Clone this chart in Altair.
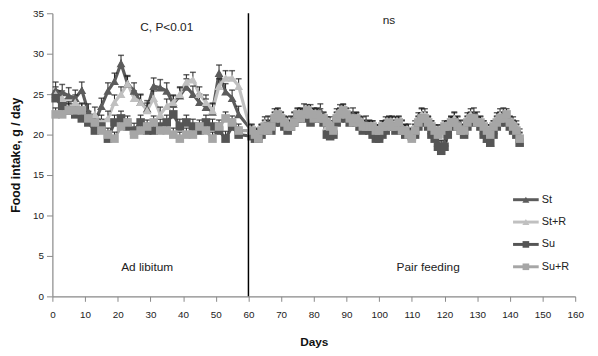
import altair as alt
import pandas as pd

series = ["St", "St+R", "Su", "Su+R"]
colors = ["#5c5c5c", "#c0c0c0", "#555555", "#a6a6a6"]

days_adlib = [1, 3, 5, 7, 9, 11, 13, 15, 17, 19, 21, 23, 25, 27, 29, 31, 33, 35, 37, 39,
              41, 43, 45, 47, 49, 51, 53, 55, 57]
days_pair = list(range(61, 144))

st_adlib = [25.5, 25.2, 24.8, 24.5, 25.5, 22.8, 21.5, 23.5, 25.4, 26.6, 28.8, 26.3, 25.4, 24.0, 23.2,
            26.0, 25.8, 25.4, 23.8, 24.8, 25.9, 25.0, 24.0, 23.4, 22.8, 27.6, 25.3, 24.5, 22.5]
str_adlib = [25.0, 24.5, 23.2, 24.0, 23.0, 22.0, 22.5, 21.5, 22.0, 24.0, 25.0, 26.3, 24.5, 24.0, 23.0,
             24.5, 22.5, 23.5, 24.0, 25.0, 26.5, 26.8, 25.0, 24.0, 23.0, 26.0, 27.0, 27.0, 26.0]
su_adlib = [24.5, 23.5, 23.0, 22.5, 22.0, 21.5, 20.5, 21.0, 19.5, 21.5, 22.0, 21.0, 20.5, 21.5, 20.5,
            20.5, 21.0, 21.5, 22.5, 21.0, 21.5, 21.0, 20.5, 21.5, 21.0, 20.5, 19.5, 21.0, 20.0]
sur_adlib = [22.5, 22.5, 23.0, 23.0, 23.0, 22.0, 21.5, 20.5, 20.0, 19.5, 21.0, 21.5, 20.0, 20.5, 21.0,
             21.5, 20.5, 20.5, 20.0, 19.5, 20.0, 20.0, 21.0, 20.5, 19.5, 21.0, 22.0, 21.5, 20.5]

st_pair = [20.5, 20.0, 19.8, 20.5, 21.0, 21.5, 21.0, 22.0, 22.5, 22.0,
           21.5, 21.0, 21.5, 22.0, 22.5, 22.5, 23.0, 22.5, 22.0, 22.5,
           22.5, 23.0, 22.0, 21.0, 20.0, 20.5, 22.0, 22.5, 23.0, 22.5,
           22.0, 22.5, 22.0, 21.5, 21.0, 21.5, 21.0, 20.5, 20.0, 19.8,
           20.5, 21.0, 21.5, 21.5, 21.0, 21.5, 21.0, 20.5, 20.5, 20.0,
           20.5, 21.5, 22.5, 22.0, 21.5, 20.5, 20.0, 19.0, 18.5, 19.0,
           20.5, 21.5, 22.0, 21.5, 21.0, 20.5, 21.5, 22.0, 22.5, 22.0,
           21.5, 20.5, 19.5, 19.0, 20.5, 21.5, 22.0, 22.5, 22.0, 21.5, 21.0, 20.5, 19.5]
str_pair = [20.0, 19.5, 20.0, 20.5, 21.5, 21.0, 21.5, 22.5, 22.0, 21.5,
            21.0, 21.5, 21.0, 22.0, 22.0, 22.5, 22.0, 22.5, 23.0, 22.5,
            22.0, 22.5, 21.5, 21.0, 21.5, 21.0, 22.5, 23.0, 22.5, 22.0,
            21.5, 22.0, 22.0, 21.0, 21.5, 21.0, 20.5, 21.0, 20.5, 20.5,
            21.0, 21.5, 21.0, 21.5, 21.5, 21.0, 21.0, 20.5, 20.0, 20.0,
            21.0, 22.0, 22.5, 22.5, 21.5, 21.0, 20.5, 20.5, 20.0, 20.5,
            21.0, 21.5, 22.0, 21.5, 20.5, 21.0, 22.0, 22.5, 22.0, 21.5,
            21.0, 21.0, 20.5, 20.5, 21.0, 22.0, 22.5, 22.0, 22.0, 21.0, 21.5, 21.0, 20.0]
su_pair = [19.8, 19.5, 19.5, 20.0, 20.5, 21.0, 20.5, 21.5, 22.0, 21.5,
           21.0, 20.5, 21.0, 21.5, 22.0, 22.0, 22.5, 22.0, 21.5, 22.0,
           22.0, 22.0, 21.5, 20.0, 19.8, 20.0, 21.5, 22.0, 22.5, 22.0,
           21.5, 22.0, 21.5, 21.0, 20.5, 21.0, 20.5, 20.0, 19.5, 19.5,
           20.0, 20.5, 21.0, 21.0, 20.5, 21.0, 20.5, 20.0, 20.0, 19.8,
           20.0, 21.0, 22.0, 21.5, 21.0, 20.0, 19.5, 18.5, 18.0, 18.5,
           20.0, 21.0, 21.5, 21.0, 20.5, 20.0, 21.0, 21.5, 22.0, 21.5,
           21.0, 20.0, 19.5, 19.0, 20.0, 21.0, 21.5, 22.0, 21.5, 21.0, 20.5, 20.0, 19.0]
sur_pair = [20.5, 20.0, 19.5, 20.5, 21.0, 20.5, 21.0, 22.0, 22.5, 22.0,
            21.5, 21.0, 21.0, 21.5, 22.5, 22.0, 22.5, 23.0, 22.5, 22.0,
            22.5, 22.0, 22.0, 21.5, 21.0, 20.5, 22.0, 22.5, 23.0, 22.5,
            22.0, 21.5, 22.0, 21.5, 21.0, 21.0, 21.0, 21.0, 20.5, 20.5,
            21.0, 21.0, 21.5, 21.0, 21.0, 21.5, 20.5, 20.5, 20.0, 19.5,
            20.5, 21.5, 22.0, 22.0, 21.5, 21.0, 20.5, 20.0, 20.5, 21.0,
            21.0, 21.5, 21.5, 21.0, 20.5, 20.5, 21.5, 22.0, 22.0, 21.5,
            21.5, 21.0, 20.5, 20.0, 21.0, 21.5, 22.0, 22.0, 22.5, 21.5, 21.0, 20.5, 19.5]

se_adlib = {"St": 1.0, "St+R": 0.9, "Su": 0.9, "Su+R": 0.8}
se_pair = {"St": 0.8, "St+R": 0.7, "Su": 0.7, "Su+R": 0.7}

annot_text = ["C, P<0.01", "ns", "Ad libitum", "Pair feeding"]
annot_x = [35, 103, 29, 115]
annot_y = [33.3, 34.1, 3.6, 3.6]

x_ticks = [0, 10, 20, 30, 40, 50, 60, 70, 80, 90, 100, 110, 120, 130, 140, 150, 160]
y_ticks = [0, 5, 10, 15, 20, 25, 30, 35]
split_day = [60]

adlib_vals = {"St": st_adlib, "St+R": str_adlib, "Su": su_adlib, "Su+R": sur_adlib}
pair_vals = {"St": st_pair, "St+R": str_pair, "Su": su_pair, "Su+R": sur_pair}

rows = []
for i, s in enumerate(series):
    for d, v in zip(days_adlib, adlib_vals[s]):
        rows.append({"series": s, "ord": i, "day": d, "value": v, "hi": v + se_adlib[s]})
    for d, v in zip(days_pair, pair_vals[s]):
        rows.append({"series": s, "ord": i, "day": d, "value": v, "hi": v + se_pair[s]})
df = pd.DataFrame(rows)

FONT = "Liberation Sans"
xs = alt.Scale(domain=[0, 160], nice=False)
ys = alt.Scale(domain=[0, 35], nice=False)
cs = alt.Scale(domain=series, range=colors)

x_axis = alt.Axis(values=x_ticks, title="Days", titleFontWeight="bold",
                  titleFontSize=12, titlePadding=18, labelPadding=8,
                  labelOverlap=False, labelFlush=False, tickSize=5, grid=False)
y_axis = alt.Axis(values=y_ticks, title="Food intake, g / day",
                  titleFontWeight="bold", titleFontSize=12.5,
                  titlePadding=10, labelPadding=3, tickSize=6, grid=False, labelOverlap=False)


def X(field="day"):
    return alt.X(f"{field}:Q", scale=xs, axis=x_axis, title="Days")


def Y(field="value"):
    return alt.Y(f"{field}:Q", scale=ys, axis=y_axis, title="Food intake, g / day")


base = alt.Chart(df)

lines = base.mark_line(strokeWidth=3.2).encode(
    x=X(), y=Y(),
    color=alt.Color("series:N", scale=cs, legend=None),
    order=alt.Order("day:Q"),
)

err = base.mark_rule(color="#222222", strokeWidth=1).encode(
    x=X(), y=Y(), y2="hi:Q",
)
caps = base.mark_tick(color="#222222", orient="horizontal", size=6, thickness=1.5).encode(
    x=X(), y=Y("hi"),
)

tri_points = base.transform_filter(
    alt.FieldOneOfPredicate(field="series", oneOf=series[:2])
).mark_point(filled=True, size=80, opacity=1, shape="triangle-up").encode(
    x=X(), y=Y(),
    color=alt.Color("series:N", scale=cs, legend=None),
    order=alt.Order("ord:Q"),
)
sq_points = base.transform_filter(
    alt.FieldOneOfPredicate(field="series", oneOf=series[2:])
).mark_point(filled=True, size=75, opacity=1, shape="square").encode(
    x=X(), y=Y(),
    color=alt.Color("series:N", scale=cs, legend=None),
    order=alt.Order("ord:Q"),
)

vline = alt.Chart(pd.DataFrame({"day": split_day})).mark_rule(color="black", strokeWidth=1.5).encode(
    x=X(), y=alt.value(0), y2=alt.value(287),
)

annot = alt.Chart(pd.DataFrame({"day": annot_x, "value": annot_y, "text": annot_text})).mark_text(
    font=FONT, fontSize=12, color="#222222", align="center", baseline="middle"
).encode(x=X(), y=Y(), text="text:N")

main = alt.layer(lines, err, caps, tri_points, sq_points, vline, annot)

# custom legend: rows placed by a point scale over the series names
leg_df = pd.DataFrame({"series": series})
leg_y = alt.Y("series:N", scale=alt.Scale(type="point", domain=series, range=[189, 257], padding=0), axis=None)
leg_base = alt.Chart(leg_df)
leg_line = leg_base.mark_rule(strokeWidth=3).encode(
    y=leg_y, x=alt.value(467), x2=alt.value(493),
    color=alt.Color("series:N", scale=cs, legend=None),
)
leg_tri = leg_base.transform_filter(
    alt.FieldOneOfPredicate(field="series", oneOf=series[:2])
).mark_point(filled=True, size=50, opacity=1, shape="triangle-up").encode(
    y=leg_y, x=alt.value(480), color=alt.Color("series:N", scale=cs, legend=None),
)
leg_sq = leg_base.transform_filter(
    alt.FieldOneOfPredicate(field="series", oneOf=series[2:])
).mark_point(filled=True, size=45, opacity=1, shape="square").encode(
    y=leg_y, x=alt.value(480), color=alt.Color("series:N", scale=cs, legend=None),
)
leg_text = leg_base.mark_text(font=FONT, fontSize=11, color="#222222", align="left", baseline="middle").encode(
    y=leg_y, x=alt.value(496), text="series:N",
)
legend = alt.layer(leg_line, leg_tri, leg_sq, leg_text)

chart = alt.layer(main, legend).resolve_scale(y="independent").properties(
    width=530, height=287,
    padding={"left": 45, "top": 3, "right": 15, "bottom": 50},
    autosize="none",
).configure_view(stroke=None).configure_axis(
    labelFont=FONT, titleFont=FONT, labelFontSize=10, labelColor="#222222", titleColor="#111111",
    domainColor="#888888", tickColor="#888888", domainWidth=1.2, labelOverlap=False,
)

chart.save("out.html", embed_options={"renderer": "svg", "actions": False})
